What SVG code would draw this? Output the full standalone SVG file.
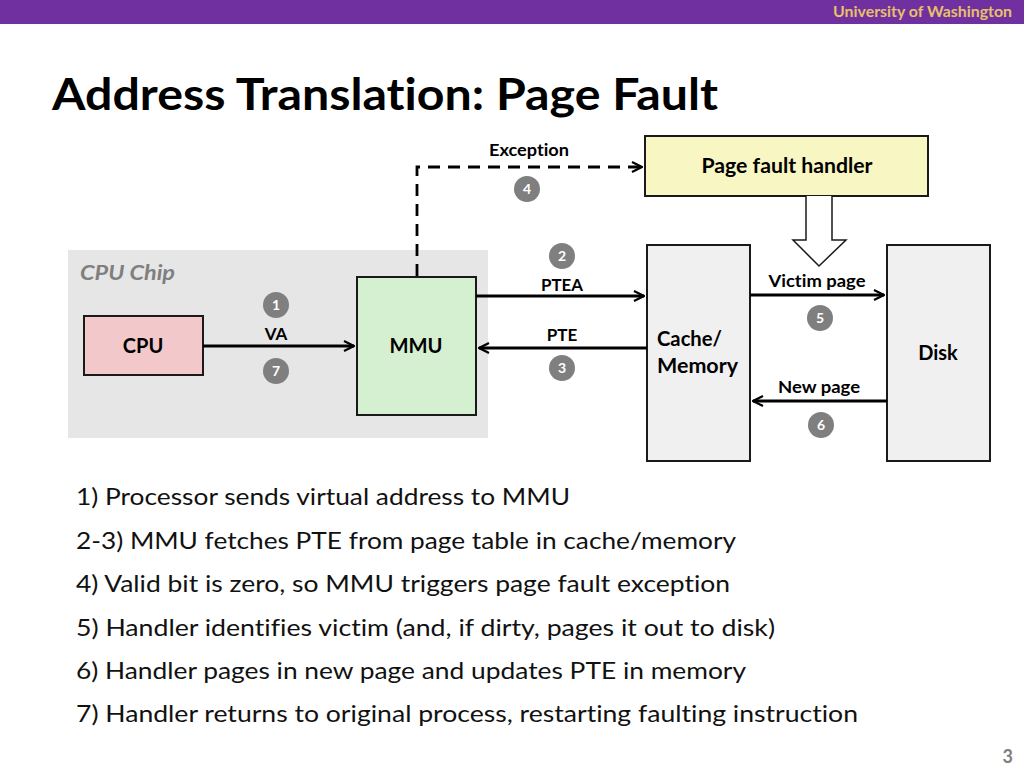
<svg xmlns="http://www.w3.org/2000/svg" width="1024" height="768" viewBox="0 0 1024 768">
<defs>
<marker id="arr" viewBox="0 0 12 12" refX="11" refY="6" markerWidth="12" markerHeight="12" markerUnits="userSpaceOnUse" orient="auto">
<path d="M1,1 L11,6 L1,11" fill="none" stroke="#000" stroke-width="2.2"/>
</marker>
</defs>
<style>
text{font-family:Lato,"Open Sans","Liberation Sans",sans-serif;font-variant-ligatures:none;}
.box{stroke:#1a1a1a;stroke-width:2;}
.lbl{font-size:17px;font-weight:bold;fill:#000;text-anchor:middle;}
.nl{font-size:20px;font-weight:bold;fill:#000;text-anchor:middle;}
.badge circle{fill:#7f7f7f;}
.badge text{font-size:14px;font-weight:bold;fill:#fff;text-anchor:middle;}
.conn{stroke:#000;stroke-width:2.8;fill:none;}
.body{font-size:23px;fill:#111;}
</style>
<rect x="0" y="0" width="1024" height="24" fill="#7030A0"/>
<text x="1012" y="17" font-size="15" font-weight="bold" fill="#E6C06A" text-anchor="end" textLength="179" lengthAdjust="spacingAndGlyphs">University of Washington</text>
<text x="52" y="110" font-size="44" font-weight="bold" fill="#000" textLength="666" lengthAdjust="spacingAndGlyphs">Address Translation: Page Fault</text>

<g id="cpu-chip">
<rect x="68" y="250" width="420" height="188" fill="#E6E6E6"/>
<text x="80" y="280" font-size="21" font-weight="bold" font-style="italic" fill="#7f7f7f" textLength="95" lengthAdjust="spacingAndGlyphs">CPU Chip</text>
</g>
<g id="handler">
<rect class="box" x="645" y="136" width="283" height="60" fill="#F8F6C2"/>
<text class="nl" x="787" y="173" textLength="171" lengthAdjust="spacingAndGlyphs">Page fault handler</text>
</g>
<g id="cpu">
<rect class="box" x="84" y="316" width="119" height="59" fill="#F2C8CA"/>
<text class="nl" x="143" y="353">CPU</text>
</g>
<g id="mmu">
<rect class="box" x="357" y="277" width="119" height="138" fill="#D5F0D0"/>
<text class="nl" x="416" y="353" textLength="53" lengthAdjust="spacingAndGlyphs">MMU</text>
</g>
<g id="memory">
<rect class="box" x="647" y="245" width="103" height="216" fill="#F0F0F0"/>
<text x="657" y="346" font-size="20" font-weight="bold" fill="#000" textLength="65" lengthAdjust="spacingAndGlyphs">Cache/</text>
<text x="657" y="373" font-size="20" font-weight="bold" fill="#000" textLength="81" lengthAdjust="spacingAndGlyphs">Memory</text>
</g>
<g id="disk">
<rect class="box" x="887" y="245" width="103" height="216" fill="#F0F0F0"/>
<text class="nl" x="938" y="360">Disk</text>
</g>

<g id="connectors">
<path class="conn" d="M417,276 V167 H642" stroke-dasharray="12,8" marker-end="url(#arr)"/>
<line class="conn" x1="203" y1="346" x2="354" y2="346" marker-end="url(#arr)"/>
<line class="conn" x1="476" y1="296" x2="644" y2="296" marker-end="url(#arr)"/>
<line class="conn" x1="647" y1="348" x2="479" y2="348" marker-end="url(#arr)"/>
<line class="conn" x1="750" y1="295" x2="884" y2="295" marker-end="url(#arr)"/>
<line class="conn" x1="887" y1="401" x2="753" y2="401" marker-end="url(#arr)"/>
<path d="M806,196 V240 H793 L819,266 L846,240 H832 V196" fill="#fff" stroke="#1a1a1a" stroke-width="1.5"/>
<text class="lbl" x="529" y="156" textLength="80" lengthAdjust="spacingAndGlyphs">Exception</text>
<text class="lbl" x="276" y="340">VA</text>
<text class="lbl" x="562" y="291" textLength="42" lengthAdjust="spacingAndGlyphs">PTEA</text>
<text class="lbl" x="562" y="341">PTE</text>
<text class="lbl" x="817" y="287" textLength="97" lengthAdjust="spacingAndGlyphs">Victim page</text>
<text class="lbl" x="819" y="393" textLength="82" lengthAdjust="spacingAndGlyphs">New page</text>
</g>

<g id="badges" class="badge">
<g><circle cx="276" cy="305" r="13"/><text x="276" y="310">1</text></g>
<g><circle cx="562" cy="256" r="13"/><text x="562" y="261">2</text></g>
<g><circle cx="562" cy="368" r="13"/><text x="562" y="373">3</text></g>
<g><circle cx="527" cy="189" r="13"/><text x="527" y="194">4</text></g>
<g><circle cx="820" cy="318" r="13"/><text x="820" y="323">5</text></g>
<g><circle cx="821" cy="425" r="13"/><text x="821" y="430">6</text></g>
<g><circle cx="276" cy="371" r="13"/><text x="276" y="376">7</text></g>
</g>

<g id="steps">
<text class="body" x="76" y="505" textLength="494" lengthAdjust="spacingAndGlyphs">1) Processor sends virtual address to MMU</text>
<text class="body" x="76" y="549" textLength="660" lengthAdjust="spacingAndGlyphs">2-3) MMU fetches PTE from page table in cache/memory</text>
<text class="body" x="76" y="592" textLength="654" lengthAdjust="spacingAndGlyphs">4) Valid bit is zero, so MMU triggers page fault exception</text>
<text class="body" x="76" y="636" textLength="699" lengthAdjust="spacingAndGlyphs">5) Handler identifies victim (and, if dirty, pages it out to disk)</text>
<text class="body" x="76" y="679" textLength="670" lengthAdjust="spacingAndGlyphs">6) Handler pages in new page and updates PTE in memory</text>
<text class="body" x="76" y="722" textLength="782" lengthAdjust="spacingAndGlyphs">7) Handler returns to original process, restarting faulting instruction</text>
</g>
<text x="1013" y="763" font-size="18" font-weight="bold" fill="#808080" text-anchor="end">3</text>
</svg>
